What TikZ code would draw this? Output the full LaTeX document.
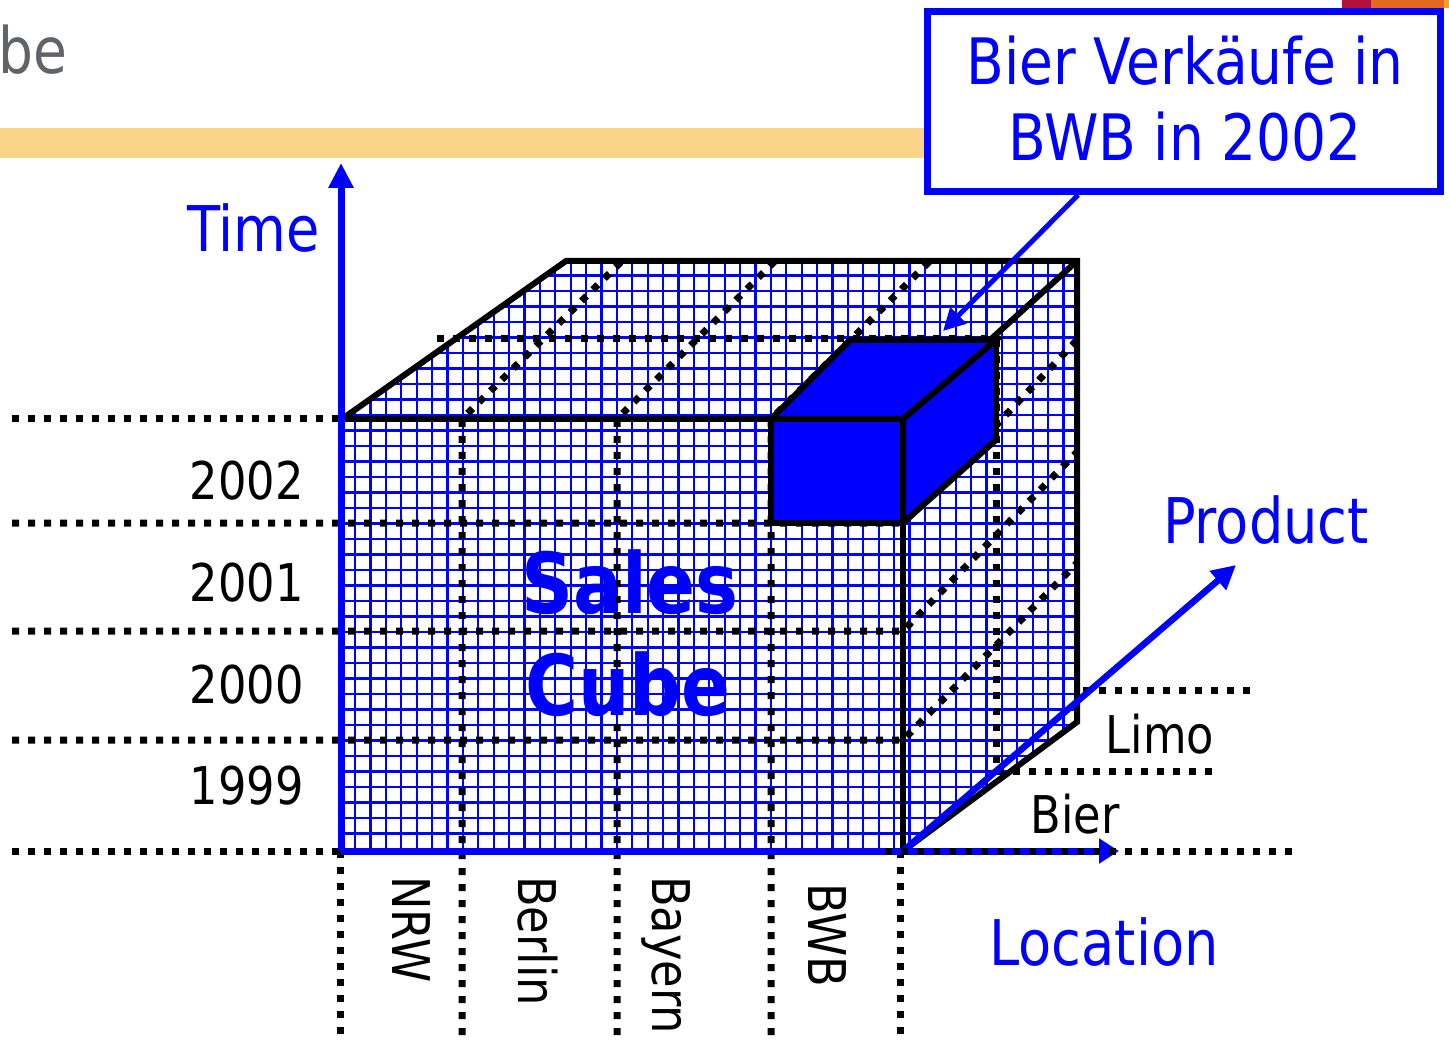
\documentclass[tikz,border=0pt]{standalone}
\usepackage{fontspec}
\setmainfont{DejaVu Sans}[FakeStretch=0.86]
\usetikzlibrary{arrows.meta}
\definecolor{band}{RGB}{250,213,135}
\definecolor{titlegray}{RGB}{95,100,104}
\definecolor{barred}{RGB}{176,16,58}
\definecolor{barorange}{RGB}{227,105,31}
\definecolor{baryellow}{RGB}{240,160,48}
\definecolor{pblue}{RGB}{0,0,255}
\begin{document}
\begin{tikzpicture}[x=1pt,y=-1pt,
  dotline/.style={line width=7pt, dash pattern=on 7pt off 9pt},
  gridline/.style={pblue, line width=2.2pt},
  cubeedge/.style={draw=black, line width=6pt, line join=miter},
  axisline/.style={pblue, line width=7pt},
  lbl/.style={inner sep=0pt, font=\fontsize{52}{60}\selectfont},
  biglbl/.style={inner sep=0pt, text=pblue, font=\fontsize{63}{72}\selectfont},
  boldlbl/.style={inner sep=0pt, text=pblue, font=\bfseries\fontsize{84}{92}\selectfont},
]
\useasboundingbox (0,0) rectangle (1449,1048);
\fill[white] (0,0) rectangle (1449,1048);
% slide decoration
\fill[band] (0,128) rectangle (926,158);
\fill[barred] (1342,0) rectangle (1371,8);
\fill[barorange] (1371,0) rectangle (1444,8);
\fill[baryellow] (1444,0) rectangle (1449,8);
\node[anchor=base west, inner sep=0pt, text=titlegray, font=\fontsize{64}{70}\selectfont] (title) at (-2,74) {be};
% grid on the cube
\begin{scope}
\clip (342,419) -- (566,261) -- (1077,261) -- (1077,722) -- (903,851) -- (342,851) -- cycle;
\foreach \k in {0,...,48} \draw[gridline] ({339.7+15.4*\k},250) -- ({339.7+15.4*\k},860);
\foreach \k in {0,...,39} \draw[gridline] (330,{260+15.5*\k}) -- (1090,{260+15.5*\k});
\end{scope}
% dotted division lines
\draw[dotline] (12,419) -- (342,419);
\draw[dotline] (12,523) -- (903,523) -- (1077,340);
\draw[dotline] (12,631) -- (903,631) -- (1077,452);
\draw[dotline] (12,740) -- (903,740) -- (1077,563);
\draw[dotline] (12,851) -- (342,851);
\draw[dotline] (462,1035) -- (462,419) -- (622,261);
\draw[dotline] (617,1035) -- (617,419) -- (775,261);
\draw[dotline] (771,1035) -- (771,419) -- (930,261);
\draw[dotline] (340,851) -- (340,1040);
\draw[dotline] (900,851) -- (900,1035);
\draw[dotline] (437,339) -- (996,339) -- (996,771) -- (1220,771);
\draw[dotline] (1083,690) -- (1252,690);
% cube outline
\draw[cubeedge] (342,419) -- (566,261) -- (1077,261) -- (1077,722) -- (903,851);
\draw[cubeedge] (342,419) -- (771,419);
\draw[cubeedge] (903,419) -- (1077,261);
\draw[cubeedge] (903,523) -- (903,851);
% small cube
\filldraw[fill=pblue, cubeedge] (771,419) rectangle (903,523);
\filldraw[fill=pblue, cubeedge] (771,419) -- (850,340) -- (996,340) -- (903,419) -- cycle;
\filldraw[fill=pblue, cubeedge] (903,419) -- (996,340) -- (996,440) -- (903,523) -- cycle;
\coordinate (cubetop) at (943,331);
% axes
\coordinate (origin) at (341,851);
\coordinate (timetip) at (341,163);
\coordinate (loctip) at (1119,851);
\coordinate (prodstart) at (903,851);
\coordinate (prodtip) at (1236,565);
\draw[axisline, -{Triangle[length=25pt,width=24pt]}] (origin) -- (timetip);
\draw[axisline, -{Triangle[length=20pt,width=24pt]}] (origin) -- (loctip);
\draw[axisline, line width=6.5pt, -{Triangle[length=24pt,width=24pt]}] (prodstart) -- (prodtip);
\draw[dotline] (885,851) -- (1300,851);
% callout
\node[draw=pblue, line width=7pt, fill=white, minimum width=513pt, minimum height=180pt, inner sep=0pt] (callout) at (1183.5,101.5) {};
\draw[pblue, line width=5pt, -{Triangle[length=22pt,width=22pt]}] ([xshift=-105.5pt]callout.south) -- (cubetop);
\node[biglbl, font=\fontsize{64}{72}\selectfont, anchor=base] (calla) at (1185,85) {Bier Verkäufe in};
\node[biglbl, font=\fontsize{64}{72}\selectfont, anchor=base] (callb) at (1185,161) {BWB in 2002};
% axis labels
\node[biglbl, anchor=base east] (time) at (320,252) {Time};
\node[biglbl, anchor=base] (product) at (1266,543) {Product};
\node[biglbl, anchor=base] (location) at (1104,965) {Location};
\node[boldlbl, anchor=base] (sales) at (630,613) {Sales};
\node[boldlbl, anchor=base] (cube) at (628,715) {Cube};
% years
\node[lbl, anchor=base east] (y2002) at (304,500) {2002};
\node[lbl, anchor=base east] (y2001) at (304,601) {2001};
\node[lbl, anchor=base east] (y2000) at (304,703) {2000};
\node[lbl, anchor=base east] (y1999) at (304,804) {1999};
% products
\node[lbl, anchor=base] (limo) at (1160,753) {Limo};
\node[lbl, anchor=base] (bier) at (1075,833) {Bier};
% locations
\node[lbl, rotate=-90, anchor=base west] (nrw) at (392,876) {NRW};
\node[lbl, rotate=-90, anchor=base west] (berlin) at (518,876) {Berlin};
\node[lbl, rotate=-90, anchor=base west] (bayern) at (652,876) {Bayern};
\node[lbl, rotate=-90, anchor=base west] (bwb) at (808,883) {BWB};
\end{tikzpicture}
\end{document}
